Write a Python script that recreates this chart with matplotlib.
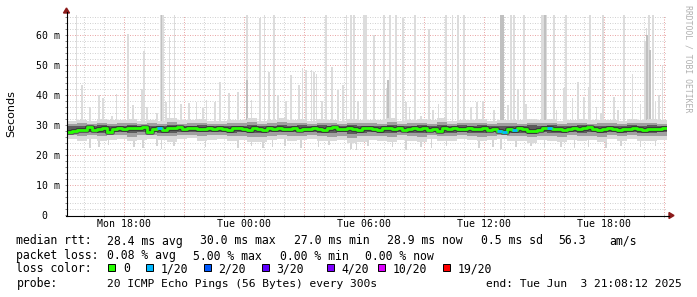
import numpy as np
import matplotlib
matplotlib.use("Agg")
import matplotlib.pyplot as plt
import matplotlib.dates as mdates
from matplotlib.ticker import MultipleLocator, FuncFormatter
from matplotlib.patches import Rectangle, Polygon
from matplotlib.lines import Line2D
from datetime import datetime, timedelta

# time span of the graph
start = datetime(2025, 6, 2, 15, 8, 12)
end = datetime(2025, 6, 3, 21, 8, 12)
day0 = datetime(2025, 6, 2)

# median rtt (ms), one value per 15 minutes
median = [
    27.8, 28.1, 28.2, 28.4, 29.3, 28.4, 28.7, 28.9, 27.8, 28.6,
    28.9, 28.8, 28.9, 29.1, 28.9, 29.3, 27.8, 28.7, 28.9, 28.2,
    28.9, 29.0, 29.3, 28.6, 28.9, 29.0, 28.6, 28.8, 29.0, 28.6,
    28.9, 28.8, 28.4, 28.9, 29.0, 28.8, 28.4, 28.9, 28.7, 28.3,
    28.9, 28.7, 28.9, 28.6, 28.8, 29.0, 28.4, 28.8, 28.6, 28.9,
    28.7, 28.3, 28.9, 29.2, 28.7, 28.6, 29.0, 28.8, 28.4, 28.9,
    29.1, 28.8, 28.4, 28.9, 29.1, 28.7, 28.9, 28.4, 28.8, 29.0,
    28.6, 28.9, 28.2, 28.7, 28.0, 28.9, 28.6, 29.1, 28.8, 28.6,
    28.9, 28.6, 28.7, 28.9, 28.4, 28.7, 28.1, 27.8, 28.8, 28.4,
    28.9, 28.6, 28.0, 28.1, 28.3, 29.1, 28.9, 28.6, 28.8, 28.4,
    28.7, 29.0, 28.6, 28.9, 29.2, 28.8, 28.4, 28.7, 28.9, 28.6,
    28.3, 28.8, 28.6, 28.9, 28.7, 28.4, 28.8, 28.6, 28.8, 29.0,
]

# hours (since Mon 00:00) of the 15-minute steps that lost 1/20 pings
loss_hours = [19.7, 36.7, 36.95, 37.45, 39.2]

# smoke bands (ms), one value per 30 minutes
outer_lo = [
    25.2, 24.8, 25.4, 24.6, 25.0, 25.3, 24.5, 25.1, 25.4, 24.9, 24.4, 25.2, 25.5, 24.7, 25.1,
    25.3, 24.8, 25.1, 24.3, 24.2, 24.9, 25.4, 24.7, 25.0, 25.3, 24.8, 24.5, 25.1, 23.9, 24.4,
    25.1, 24.8, 24.4, 25.0, 24.7, 24.3, 25.2, 24.8, 24.6, 25.4, 24.9, 24.5, 25.0, 25.2, 24.6,
    24.8, 24.1, 25.0, 24.7, 24.4, 25.1, 24.6, 25.0, 24.3, 25.2, 24.8, 25.3, 24.7, 24.5, 25.0,
]
outer_hi = [
    31.4, 31.8, 31.2, 32.0, 31.5, 31.7, 32.1, 31.4, 31.8, 31.3, 32.2, 31.5, 31.7, 31.9, 31.4,
    31.2, 31.8, 31.6, 32.3, 31.4, 31.8, 32.4, 31.6, 31.9, 31.3, 32.0, 31.7, 31.3, 32.0, 31.6,
    31.8, 31.5, 32.2, 31.3, 31.7, 31.9, 31.5, 32.3, 31.4, 31.8, 31.6, 32.1, 31.3, 31.8, 31.7,
    31.5, 31.9, 31.6, 32.0, 31.3, 31.7, 31.9, 31.5, 31.8, 31.6, 31.4, 32.0, 31.7, 32.1, 31.5,
]
mid_lo = [
    26.6, 26.4, 26.6, 26.2, 26.5, 26.5, 26.1, 26.5, 26.7, 26.3, 26.2, 26.5, 26.6, 26.3, 26.5,
    26.6, 26.3, 26.4, 26.0, 26.1, 26.4, 26.7, 26.3, 26.4, 26.6, 26.3, 26.1, 26.4, 25.8, 26.2,
    26.4, 26.3, 26.1, 26.5, 26.3, 26.0, 26.5, 26.3, 26.2, 26.6, 26.3, 26.1, 26.4, 26.5, 26.2,
    26.3, 25.9, 26.4, 26.3, 26.1, 26.5, 26.3, 26.4, 26.1, 26.6, 26.3, 26.6, 26.3, 26.2, 26.4,
]
mid_hi = [
    30.3, 30.6, 30.2, 30.7, 30.4, 30.5, 30.8, 30.4, 30.6, 30.3, 30.9, 30.4, 30.6, 30.7, 30.4,
    30.3, 30.6, 30.5, 31.0, 30.4, 30.6, 31.0, 30.5, 30.7, 30.3, 30.8, 30.5, 30.3, 30.8, 30.5,
    30.6, 30.4, 30.9, 30.3, 30.6, 30.7, 30.4, 31.0, 30.4, 30.7, 30.5, 30.8, 30.3, 30.6, 30.5,
    30.4, 30.7, 30.5, 30.8, 30.3, 30.6, 30.7, 30.4, 30.6, 30.5, 30.4, 30.8, 30.5, 30.8, 30.4,
]
inner_lo = [
    27.6, 27.5, 27.6, 27.3, 27.6, 27.5, 27.3, 27.6, 27.7, 27.4, 27.3, 27.6, 27.7, 27.5, 27.6,
    27.6, 27.4, 27.5, 27.2, 27.3, 27.5, 27.7, 27.5, 27.5, 27.6, 27.4, 27.3, 27.5, 27.1, 27.3,
    27.5, 27.4, 27.3, 27.6, 27.4, 27.2, 27.6, 27.4, 27.3, 27.6, 27.4, 27.3, 27.5, 27.6, 27.3,
    27.4, 27.1, 27.5, 27.4, 27.3, 27.6, 27.4, 27.5, 27.3, 27.6, 27.4, 27.6, 27.4, 27.3, 27.5,
]
inner_hi = [
    29.6, 29.8, 29.6, 29.9, 29.7, 29.8, 29.9, 29.7, 29.8, 29.6, 30.0, 29.7, 29.8, 29.9, 29.7,
    29.6, 29.8, 29.8, 30.0, 29.7, 29.8, 30.0, 29.7, 29.9, 29.6, 29.9, 29.8, 29.6, 29.9, 29.8,
    29.8, 29.7, 30.0, 29.6, 29.8, 29.9, 29.7, 30.0, 29.7, 29.9, 29.8, 29.9, 29.6, 29.8, 29.8,
    29.7, 29.9, 29.8, 29.9, 29.6, 29.8, 29.9, 29.7, 29.8, 29.8, 29.7, 29.9, 29.8, 29.9, 29.7,
]

# single slow pings (hours since Mon 00:00, max rtt in ms; 70 = off the top)
spike_hours = [
    15.62, 15.87, 16.27, 16.72, 16.92, 17.37, 17.62, 18.20, 18.45, 18.89,
    18.97, 19.15, 19.65, 19.82, 19.92, 20.10, 20.27, 20.52, 20.82, 21.25,
    21.62, 21.92, 22.12, 22.55, 22.79, 23.25, 23.67, 24.12, 24.37, 24.79,
    25.02, 25.24, 25.49, 25.67, 26.07, 26.34, 26.72, 26.92, 27.08, 27.37,
    27.50, 27.62, 27.89, 28.08, 28.38, 28.67, 28.94, 29.12, 29.32, 29.50,
    29.69, 30.00, 30.07, 30.47, 30.97, 31.12, 31.27, 31.58, 31.92, 32.09,
    32.27, 32.55, 32.85, 33.25, 33.42, 33.72, 34.08, 34.42, 34.69, 34.97,
    35.32, 35.65, 35.95, 36.50, 36.82, 36.92, 37.17, 37.33, 37.50, 37.67,
    38.00, 38.08, 38.88, 38.99, 39.08, 39.47, 39.62, 39.97, 40.08, 40.42,
    40.67, 41.00, 41.22, 41.28, 41.62, 41.82, 41.95, 42.47, 42.70, 43.00,
    43.42, 43.82, 44.02, 44.12, 44.25, 44.42, 44.57, 44.72, 44.92,
]
spike_tops = [
    70, 43.3, 36.0, 40.0, 39.0, 33.0, 40.3, 60.3, 36.7, 42.0,
    54.7, 36.0, 34.0, 70, 70, 37.7, 59.4, 70, 37.0, 37.2,
    37.8, 35.6, 38.3, 37.8, 44.4, 40.6, 40.9, 70, 38.3, 65.6,
    70, 47.8, 70, 40.0, 38.0, 46.7, 43.3, 49.0, 48.3, 48.3,
    47.8, 47.0, 38.0, 70, 49.4, 41.6, 43.3, 70, 70, 70,
    38.0, 70, 70, 60.0, 70, 42.2, 70, 70, 65.6, 37.8,
    36.0, 70, 33.0, 62.0, 35.0, 37.0, 70, 70, 70, 70,
    36.0, 37.8, 38.0, 35.0, 44.4, 70, 36.5, 70, 70, 42.0,
    70, 37.0, 70, 70, 70, 70, 35.0, 42.2, 70, 39.0,
    44.4, 39.4, 42.8, 70, 36.0, 34.0, 70, 39.4, 35.0, 70,
    47.0, 37.0, 58.0, 62.2, 70, 70, 38.0, 40.0, 50.0,
]
# second slowest ping where it is also high
spike2_hours = [19.87, 24.12, 31.20, 36.85, 36.95, 39.05, 44.15, 44.30]
spike2_tops = [70, 45.0, 45.0, 70, 70, 70, 60.0, 55.0]

# single fast pings (hours since Mon 00:00, min rtt in ms)
dip_hours = [
    16.27, 16.72, 17.22, 18.47, 18.92, 19.62, 19.87, 20.47, 22.07, 23.67,
    24.37, 24.92, 25.42, 26.02, 26.82, 27.72, 28.22, 29.32, 29.62, 30.17,
    31.42, 32.07, 32.82, 33.37, 34.12, 35.72, 36.42, 36.82, 37.57, 38.32,
    39.02, 39.82, 40.52, 41.22, 42.07, 42.82, 43.82, 44.57,
]
dip_bottoms = [
    22.3, 22.8, 23.2, 22.6, 22.5, 22.9, 21.9, 23.0, 22.7, 22.4,
    23.1, 22.2, 22.6, 22.9, 22.4, 22.8, 23.2, 22.1, 21.8, 22.9,
    22.6, 21.7, 22.8, 22.3, 22.9, 22.5, 22.7, 22.0, 22.6, 22.9,
    22.4, 22.7, 22.3, 22.8, 22.5, 22.9, 22.6, 23.0,
]

W, H = 697, 297
plt.rcParams["font.family"] = ["DejaVu Sans Mono"]
fig = plt.figure(figsize=(W / 100, H / 100), dpi=100)
fig.patch.set_facecolor("white")


def fx(px):
    return px / W


def fy(py):
    return (H - py) / H


ax = fig.add_axes([fx(67), fy(215), 600 / W, 200 / H])


def hours_to_dt(h):
    return day0 + timedelta(hours=h)


med_t = [start + timedelta(minutes=15 * i) for i in range(len(median))] + [end]
med_y = np.append(median, median[-1])
band_t = [start + timedelta(minutes=30 * i) for i in range(len(outer_lo))] + [end]


def ext(a):
    return np.append(a, a[-1])


# smoke
bar_w = 5 / 1440
s_dt = [hours_to_dt(h) for h in spike_hours]
ax.bar(s_dt, np.array(spike_tops) - 29, bottom=29, width=bar_w,
       color="#dcdcdc", linewidth=0, zorder=2)
s2_dt = [hours_to_dt(h) for h in spike2_hours]
ax.bar(s2_dt, np.array(spike2_tops) - 29, bottom=29, width=bar_w,
       color="#c0c0c0", linewidth=0, zorder=2)
d_dt = [hours_to_dt(h) for h in dip_hours]
ax.bar(d_dt, 28 - np.array(dip_bottoms), bottom=dip_bottoms, width=bar_w,
       color="#d4d4d4", linewidth=0, zorder=2)
ax.fill_between(band_t, ext(outer_lo), ext(outer_hi), step="post",
                color="#dadada", linewidth=0, zorder=3)
ax.fill_between(band_t, ext(mid_lo), ext(mid_hi), step="post",
                color="#a0a0a0", linewidth=0, zorder=4)
ax.fill_between(band_t, ext(inner_lo), ext(inner_hi), step="post",
                color="#5c5c5c", linewidth=0, zorder=5)

# median line coloured by loss
ax.step(med_t, med_y, where="post", color="#1a1a1a", lw=3.6, alpha=0.5, zorder=6)
ax.step(med_t, med_y, where="post", color="#26ff00", lw=2.0, zorder=7)
start_h = (start - day0).total_seconds() / 3600
for h in loss_hours:
    i = int((h - start_h) // 0.25)
    ax.plot([med_t[i], med_t[i + 1]], [median[i], median[i]],
            color="#00b8ff", lw=2.0, solid_capstyle="butt", zorder=8)

ax.set_xlim(start, end)
ax.set_ylim(0, 200 / 3)

# grid
ax.xaxis.set_major_locator(mdates.HourLocator(byhour=range(0, 24, 3)))
ax.xaxis.set_minor_locator(mdates.HourLocator())
ax.xaxis.set_major_formatter(FuncFormatter(
    lambda v, p: mdates.num2date(v).strftime("%a %H:%M")
    if mdates.num2date(v).hour % 6 == 0 else ""))
ax.yaxis.set_major_locator(MultipleLocator(10))
ax.yaxis.set_minor_locator(MultipleLocator(2))
ax.yaxis.set_major_formatter(FuncFormatter(
    lambda v, p: "0  " if v == 0 else f"{v:.0f} m"))
ax.grid(which="minor", color="#d2d2d2", lw=0.72, ls=(0, (1, 1.5)), zorder=1)
ax.grid(which="major", color="#eaa8a8", lw=0.72, ls=(0, (1, 1.5)), zorder=1)
ax.set_axisbelow(True)
ax.tick_params(axis="both", which="both", length=1.5, width=0.72,
               color="#888888", labelsize=7.1)
ax.tick_params(axis="y", pad=3.2)
ax.tick_params(axis="x", pad=1.5)
for s in ax.spines.values():
    s.set_visible(False)

# axis lines with arrows
fig.add_artist(Line2D([fx(66.5), fx(66.5)], [fy(215.5), fy(12)], color="black", lw=0.8))
fig.add_artist(Line2D([fx(66), fx(669)], [fy(215.5), fy(215.5)], color="black", lw=0.8))
fig.add_artist(Polygon([[fx(66.5), fy(8)], [fx(63.5), fy(13)], [fx(69.5), fy(13)]],
                       closed=True, color="#8b1a1a", transform=fig.transFigure))
fig.add_artist(Polygon([[fx(674), fy(215.5)], [fx(669), fy(212.5)], [fx(669), fy(218.5)]],
                       closed=True, color="#8b1a1a", transform=fig.transFigure))

fig.text(fx(11), fy(113.5), "Seconds", rotation=90, ha="center", va="center",
         family="DejaVu Sans", size=8)
fig.text(fx(688), fy(5), "RRDTOOL / TOBI OETIKER", rotation=270, ha="center",
         va="top", size=5.9, color="#b0b0b0")

# legend
fs = 8.3


def put(px, py, s, **kw):
    fig.text(fx(px), fy(py), s, va="center", size=kw.pop("size", fs), **kw)


put(16.5, 241, "median rtt:")
for x, s in zip([107.3, 200.4, 294, 387.5, 480.6, 558, 609],
                ["28.4 ms avg", "30.0 ms max", "27.0 ms min", "28.9 ms now",
                 "0.5 ms sd", "56.3", "am/s"]):
    put(x, 241, s)
put(16.5, 256, "packet loss:")
for x, s in zip([107.3, 192.9, 279.7, 365.3],
                ["0.08 % avg", "5.00 % max", "0.00 % min", "0.00 % now"]):
    put(x, 256, s)
put(16.5, 269, "loss color:")
loss_labels = ["0", "1/20", "2/20", "3/20", "4/20", "10/20", "19/20"]
loss_colors = ["#26ff00", "#00b8ff", "#0059ff", "#5e00ff", "#7e00ff", "#dd00ff", "#ff0000"]
sq_x = [108.3, 145.7, 203.7, 262, 326.7, 377.7, 442.7]
for x, lab, c in zip(sq_x, loss_labels, loss_colors):
    fig.add_artist(Rectangle((fx(x), fy(270.5)), 7 / W, 7 / H, facecolor=c,
                             edgecolor="black", lw=0.7, transform=fig.transFigure))
    put(x + 14.5, 269, lab)
put(16.5, 284, "probe:")
put(107.3, 284, "20 ICMP Echo Pings (56 Bytes) every 300s", size=8.15)
fig.text(fx(681.5), fy(284), "end: Tue Jun  3 21:08:12 2025", ha="right",
         va="center", size=8.15)

fig.savefig("out.png", dpi=100, facecolor="white")
